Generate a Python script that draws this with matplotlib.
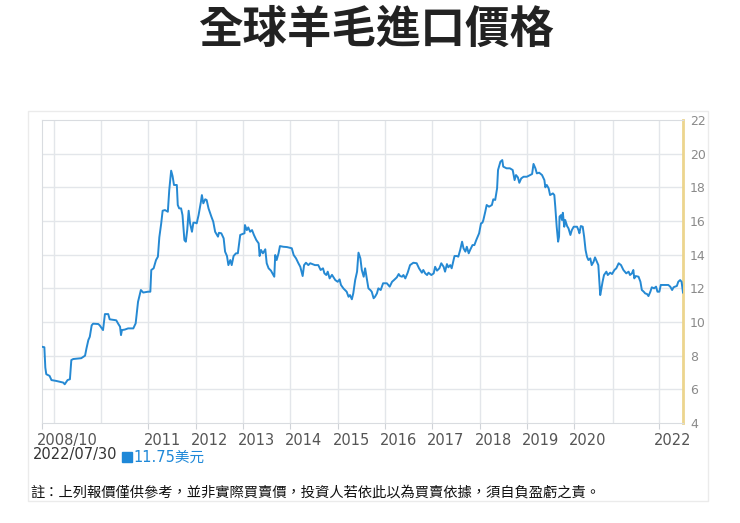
import numpy as np
import matplotlib.pyplot as plt
from matplotlib.patches import Rectangle
from matplotlib.transforms import ScaledTranslation

plt.rcParams['font.family'] = ['Noto Sans CJK TC', 'DejaVu Sans']

# weekly-ish wool import price (USD)
years = [2008.75, 2008.80, 2008.82, 2008.84, 2008.91, 2008.95, 2009.05, 2009.20, 2009.23, 2009.29,
         2009.34, 2009.37, 2009.41, 2009.58, 2009.66, 2009.69, 2009.73, 2009.76, 2009.80, 2009.83,
         2009.94, 2009.97, 2010.04, 2010.08, 2010.15, 2010.18, 2010.32, 2010.36, 2010.40, 2010.42,
         2010.44, 2010.50, 2010.57, 2010.68, 2010.73, 2010.78, 2010.84, 2010.89, 2010.99,
         2011.04, 2011.06, 2011.11, 2011.16, 2011.20, 2011.23, 2011.27, 2011.30, 2011.35, 2011.41,
         2011.44, 2011.48, 2011.51, 2011.54, 2011.60, 2011.62, 2011.65, 2011.69, 2011.72, 2011.76,
         2011.79, 2011.82, 2011.85, 2011.88, 2011.92, 2011.95, 2011.99, 2012.02, 2012.06, 2012.11,
         2012.13, 2012.16, 2012.20, 2012.23, 2012.27, 2012.33, 2012.37, 2012.41, 2012.47, 2012.49,
         2012.54, 2012.59, 2012.62, 2012.66, 2012.69, 2012.73, 2012.76, 2012.80, 2012.85, 2012.89,
         2012.94, 2012.99, 2013.03, 2013.04, 2013.08, 2013.11, 2013.15, 2013.19,
         2013.23, 2013.28, 2013.33, 2013.35, 2013.38, 2013.42, 2013.47, 2013.50, 2013.54, 2013.59,
         2013.63, 2013.66, 2013.68, 2013.71, 2013.75, 2013.78, 2013.85, 2013.93, 2014.03, 2014.07,
         2014.12, 2014.17, 2014.21, 2014.26, 2014.29, 2014.33, 2014.38, 2014.42, 2014.52, 2014.59,
         2014.64, 2014.69, 2014.72, 2014.76, 2014.79, 2014.83, 2014.88, 2014.95, 2015.00, 2015.04,
         2015.07, 2015.12, 2015.19, 2015.23, 2015.26, 2015.30, 2015.33, 2015.37, 2015.41, 2015.44,
         2015.48, 2015.51, 2015.55, 2015.58, 2015.62, 2015.65, 2015.69, 2015.72, 2015.76, 2015.79,
         2015.83, 2015.86, 2015.91, 2015.96, 2016.04, 2016.10, 2016.15, 2016.19, 2016.25,
         2016.29, 2016.32, 2016.36, 2016.39, 2016.43, 2016.48, 2016.53, 2016.60, 2016.67, 2016.72,
         2016.78, 2016.81, 2016.85, 2016.89, 2016.92, 2016.98, 2017.03, 2017.06, 2017.10, 2017.15,
         2017.19, 2017.24, 2017.27, 2017.31, 2017.34, 2017.38, 2017.41, 2017.47, 2017.52, 2017.55,
         2017.59, 2017.63, 2017.66, 2017.70, 2017.73, 2017.77, 2017.80, 2017.85, 2017.89, 2017.93,
         2017.96, 2017.99, 2018.03, 2018.06, 2018.08, 2018.12, 2018.15, 2018.20, 2018.26, 2018.29,
         2018.33, 2018.37, 2018.39, 2018.44, 2018.48, 2018.50, 2018.57, 2018.64, 2018.70, 2018.74,
         2018.77, 2018.81, 2018.84, 2018.88, 2018.93, 2019.00, 2019.07, 2019.11, 2019.14, 2019.18,
         2019.21, 2019.26, 2019.32,
         2019.37, 2019.39, 2019.42, 2019.46, 2019.49, 2019.55, 2019.58, 2019.60, 2019.63, 2019.66,
         2019.68, 2019.69, 2019.72, 2019.74, 2019.76, 2019.79, 2019.81, 2019.85, 2019.88, 2019.92,
         2019.95, 2019.99, 2020.06, 2020.09, 2020.11, 2020.14, 2020.18, 2020.21, 2020.24, 2020.27,
         2020.30, 2020.34, 2020.37, 2020.41, 2020.44, 2020.48, 2020.51, 2020.55, 2020.57, 2020.60,
         2020.63, 2020.68, 2020.71, 2020.76, 2020.80, 2020.85, 2020.89, 2020.94, 2020.99, 2021.04,
         2021.10, 2021.15, 2021.18, 2021.22, 2021.25, 2021.27, 2021.30, 2021.36, 2021.40, 2021.43,
         2021.47, 2021.50, 2021.54, 2021.57, 2021.61, 2021.64, 2021.69, 2021.73, 2021.76, 2021.80,
         2021.83, 2021.92, 2021.99, 2022.03, 2022.07, 2022.10, 2022.13, 2022.17, 2022.20, 2022.24,
         2022.27, 2022.30]
price = [8.53, 8.50, 7.30, 6.90, 6.80, 6.55, 6.50, 6.40, 6.30, 6.55,
         6.60, 7.74, 7.80, 7.85, 8.00, 8.43, 8.93, 9.12, 9.80, 9.90,
         9.88, 9.80, 9.52, 10.47, 10.47, 10.16, 10.10, 9.90, 9.72, 9.22,
         9.52, 9.55, 9.62, 9.62, 9.92, 11.20, 11.90, 11.75, 11.80,
         11.80, 13.09, 13.19, 13.68, 13.88, 15.03, 15.86, 16.61, 16.65, 16.55,
         17.84, 18.99, 18.67, 18.14, 18.14, 16.95, 16.75, 16.75, 16.35, 14.87,
         14.77, 15.46, 16.61, 15.86, 15.36, 15.90, 15.90, 15.86, 16.35, 17.15,
         17.54, 17.05, 17.29, 17.25, 16.75, 16.26, 15.96, 15.36, 15.07, 15.30,
         15.27, 14.97, 14.18, 13.92, 13.38, 13.68, 13.38, 13.92, 14.08, 14.08,
         15.17, 15.23, 15.27, 15.76, 15.46, 15.62, 15.36, 15.46,
         15.17, 14.87, 14.67, 13.92, 14.28, 14.08, 14.32, 13.49, 13.19, 13.05,
         12.85, 12.69, 13.98, 13.68, 14.08, 14.51, 14.47, 14.45, 14.38, 13.98,
         13.78, 13.49, 13.28, 12.73, 13.38, 13.52, 13.38, 13.49, 13.38, 13.38,
         13.09, 13.19, 12.89, 12.79, 12.99, 12.59, 12.80, 12.49, 12.39, 12.53,
         12.20, 12.00, 11.80, 11.50, 11.60, 11.35, 11.70, 12.49, 12.99, 14.12,
         13.78, 13.09, 12.69, 13.19, 12.49, 12.00, 11.90, 11.80, 11.41, 11.50,
         11.70, 12.00, 11.90, 12.30, 12.30, 12.10, 12.39, 12.49, 12.65,
         12.85, 12.73, 12.69, 12.79, 12.59, 12.93, 13.38, 13.52, 13.49, 13.19,
         12.93, 13.09, 12.89, 12.79, 12.93, 12.79, 12.89, 13.28, 13.05, 13.19,
         13.49, 13.28, 12.99, 13.44, 13.25, 13.38, 13.19, 13.92, 13.92, 13.88,
         14.28, 14.77, 14.38, 14.18, 14.47, 14.08, 14.28, 14.57, 14.57, 14.87,
         15.07, 15.27, 15.86, 15.90, 16.06, 16.55, 16.95, 16.85, 16.95, 17.29,
         17.25, 17.94, 19.03, 19.52, 19.62, 19.23, 19.13, 19.13, 19.03, 18.43,
         18.73, 18.59, 18.27, 18.53, 18.63, 18.63, 18.73, 18.79, 19.39, 19.13,
         18.83, 18.87, 18.73,
         18.43, 18.00, 18.14, 17.94, 17.54, 17.64, 17.54, 16.85, 15.66, 14.77,
         15.07, 16.26, 16.35, 16.06, 16.49, 15.66, 16.06, 15.70, 15.56, 15.17,
         15.46, 15.66, 15.66, 15.46, 15.27, 15.70, 15.66, 15.07, 14.28, 13.88,
         13.68, 13.78, 13.38, 13.58, 13.84, 13.58, 13.38, 11.60, 11.90, 12.39,
         12.79, 12.99, 12.79, 12.93, 12.85, 13.09, 13.19, 13.49, 13.38, 13.09,
         12.89, 12.99, 12.79, 12.89, 13.09, 12.59, 12.73, 12.69, 12.39, 11.90,
         11.80, 11.70, 11.66, 11.54, 11.80, 12.06, 12.00, 12.10, 11.80, 11.80,
         12.20, 12.20, 12.20, 12.10, 11.90, 12.06, 12.10, 12.14, 12.39, 12.49,
         12.39, 11.75]

label_pos = [2008.75, 2011, 2012, 2013, 2014, 2015, 2016, 2017, 2018, 2019, 2020, 2021.80]
label_txt = ['2008/10', '2011', '2012', '2013', '2014', '2015', '2016', '2017', '2018',
             '2019', '2020', '2022']
extra_grid = [2009, 2010, 2020.83]
y_ticks = [4, 6, 8, 10, 12, 14, 16, 18, 20, 22]

fig = plt.figure(figsize=(7.4, 5.23), dpi=100)
ax = fig.add_axes([42 / 740, 1 - 423 / 523, 641 / 740, 303 / 523])

grid_c = '#e3e6ea'
for g in extra_grid + label_pos[1:]:
    ax.axvline(g, color=grid_c, lw=1, zorder=0)
for v in y_ticks[1:-1]:
    ax.axhline(v, color=grid_c, lw=1, zorder=0)

ax.plot(years, price, color='#2589d3', lw=1.4, zorder=3)

ax.set_xlim(2008.75, 2022.30)
ax.set_ylim(4, 22)

for s in ['top', 'left', 'bottom']:
    ax.spines[s].set_color('#d9dce0')
ax.spines['right'].set_color('#ecd58e')
ax.spines['right'].set_linewidth(2)

ax.set_xticks(label_pos)
ax.set_xticklabels(label_txt, fontsize=10.5, color='#555555', family='DejaVu Sans')
ax.tick_params(axis='x', length=4, color='#cfd3d8', pad=3)
shift = ScaledTranslation(-5 / 100, 0, fig.dpi_scale_trans)
for lab in ax.get_xticklabels():
    lab.set_ha('left')
    lab.set_transform(lab.get_transform() + shift)

ax.yaxis.tick_right()
ax.set_yticks(y_ticks)
ax.set_yticklabels([str(v) for v in y_ticks], fontsize=9, color='#8a8a8a', family='DejaVu Sans')
ax.tick_params(axis='y', length=0, pad=5)

# outer light frame of the widget
fig.patches.append(Rectangle((28 / 740, 1 - 501 / 523), 680 / 740, 390 / 523,
                             transform=fig.transFigure, fill=False,
                             edgecolor='#ebebeb', lw=1))

fig.text(376 / 740, 1 - 30 / 523, '全球羊毛進口價格', ha='center', va='center',
         fontsize=32, fontweight='bold', color='#222222')

fig.text(33 / 740, 1 - 455 / 523, '2022/07/30', ha='left', va='center',
         fontsize=10.5, color='#333333', family='DejaVu Sans')
fig.patches.append(Rectangle((122 / 740, 1 - 462 / 523), 10 / 740, 10 / 523,
                             transform=fig.transFigure, color='#1e88d8'))
fig.text(133 / 740, 1 - 457 / 523, '11.75美元', ha='left', va='center',
         fontsize=10.5, color='#1e88d8', family=['DejaVu Sans', 'Noto Sans CJK TC'])

fig.text(30 / 740, 1 - 493 / 523,
         '註：上列報價僅供參考，並非實際買賣價，投資人若依此以為買賣依據，須自負盈虧之責。',
         ha='left', va='center', fontsize=10.3, color='#111111')

fig.savefig('out.png', dpi=100)
